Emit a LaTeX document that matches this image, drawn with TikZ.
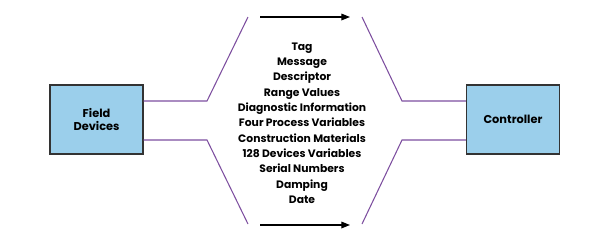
\documentclass[tikz,border=0pt]{standalone}
\usepackage{fontspec}
\setmainfont{Poppins}
\usetikzlibrary{positioning, arrows.meta}

\definecolor{boxblue}{HTML}{9BCFEB}
\definecolor{boxline}{HTML}{333333}
\definecolor{linkpurple}{HTML}{7D4E9F}

\tikzset{
    devbox/.style={draw=boxline, fill=boxblue, line width=1pt, minimum width=2.79cm, minimum height=2.07cm, inner sep=0pt, align=center, font=\fontsize{9.7}{11.2}\selectfont\bfseries},
    link/.style={draw=linkpurple, line width=0.9pt},
    flow/.style={draw=black, line width=1pt, -{Triangle[length=2.6mm, width=2mm]}}
}

\begin{document}
\begin{tikzpicture}[x=0.03cm, y=-0.03cm]
    \useasboundingbox (0,0) rectangle (595,241);

    \node[devbox] (field) at (96.5,119.5) {Field\\Devices};
    \node[devbox] (ctrl) at (513,119.5) {Controller};

    % knees of the purple links
    \coordinate (lt) at (207,101);
    \coordinate (lb) at (207,140);
    \coordinate (le) at (248,17);
    \coordinate (lf) at (248,224);
    \coordinate (rt) at (402,101);
    \coordinate (rb) at (402,140);
    \coordinate (re) at (362,17);
    \coordinate (rf) at (362,224);

    \draw[link] (field.east |- lt) -- (lt) -- (le);
    \draw[link] (field.east |- lb) -- (lb) -- (lf);
    \draw[link] (ctrl.west |- rt) -- (rt) -- (re);
    \draw[link] (ctrl.west |- rb) -- (rb) -- (rf);

    % direction arrows
    \coordinate (at) at (260,17);
    \coordinate (bt) at (350,17);
    \coordinate (ab) at (260,225);
    \coordinate (bb) at (350,225);
    \draw[flow] (at) -- (bt);
    \draw[flow] (ab) -- (bb);

    \node[align=center, font=\fontsize{9.2}{13.1}\selectfont\bfseries, inner sep=0pt] (data) at (302,123)
        {Tag\\Message\\Descriptor\\Range Values\\Diagnostic Information\\Four Process Variables\\Construction Materials\\128 Devices Variables\\Serial Numbers\\Damping\\Date};
\end{tikzpicture}
\end{document}
